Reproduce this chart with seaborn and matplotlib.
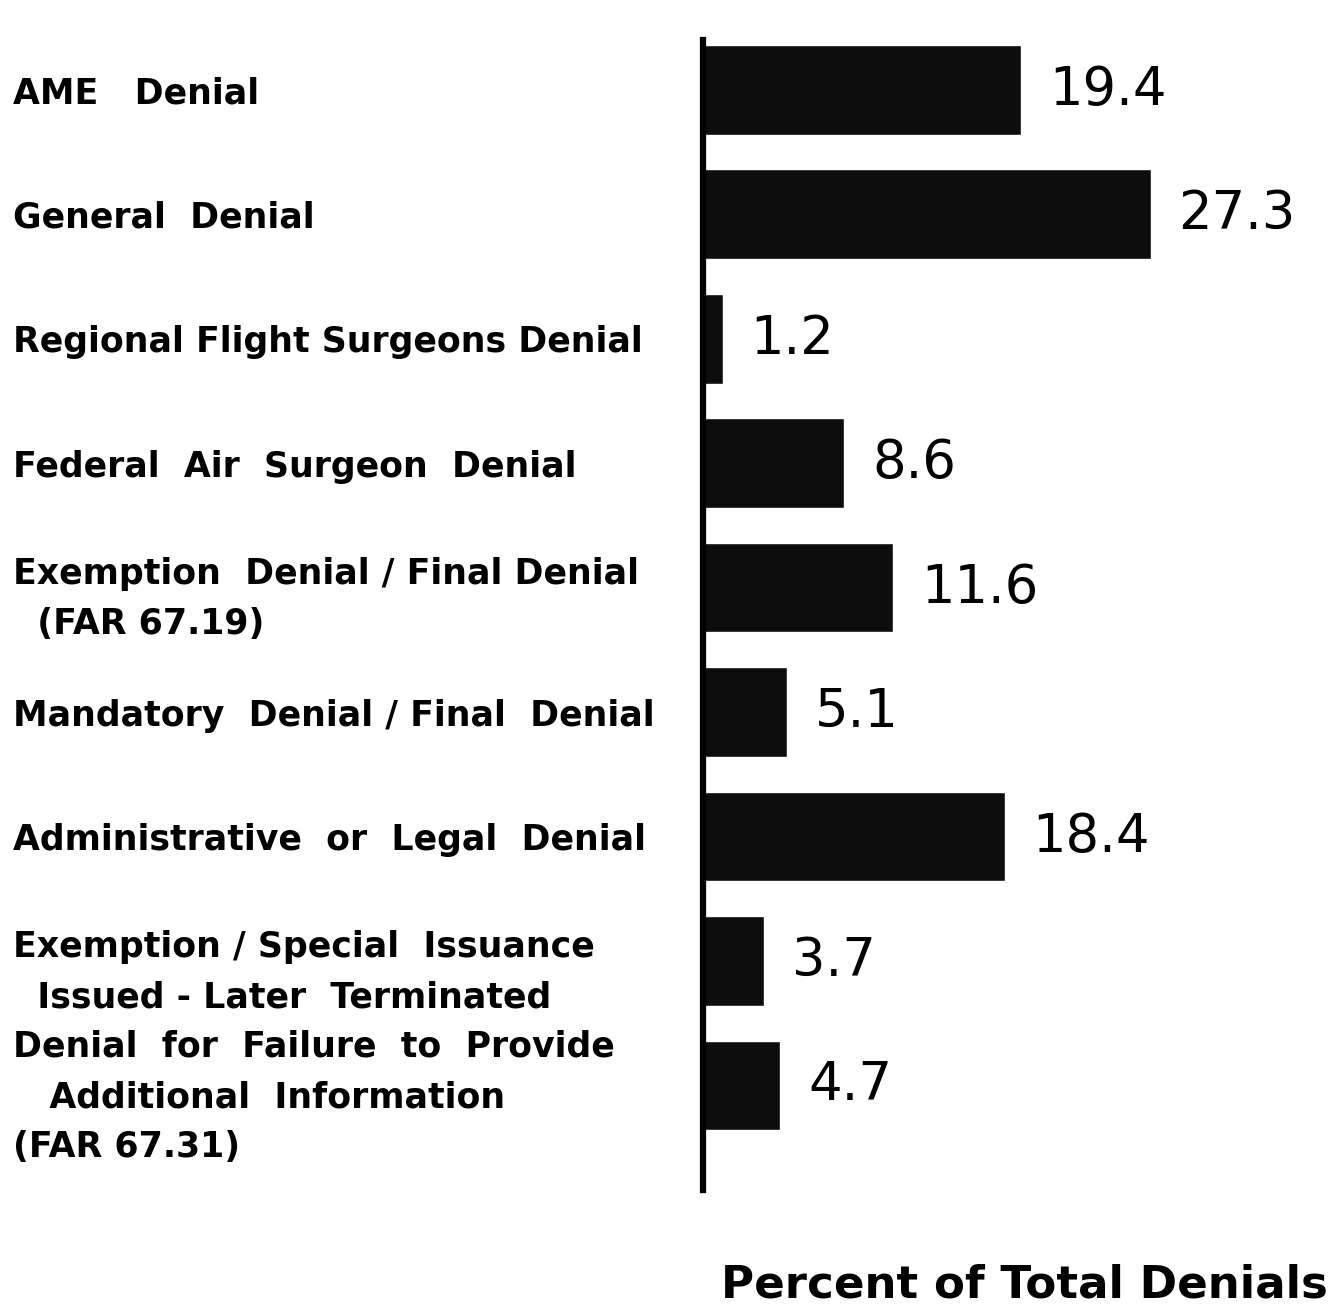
import matplotlib
matplotlib.use("Agg")
import matplotlib.pyplot as plt
import seaborn as sns
import pandas as pd

categorias = [
    "AME   Denial",
    "General  Denial",
    "Regional Flight Surgeons Denial",
    "Federal  Air  Surgeon  Denial",
    "Exemption  Denial / Final Denial\n  (FAR 67.19)",
    "Mandatory  Denial / Final  Denial",
    "Administrative  or  Legal  Denial",
    "Exemption / Special  Issuance\n  Issued - Later  Terminated",
    "Denial  for  Failure  to  Provide\n   Additional  Information\n(FAR 67.31)",
]
porcentajes = [19.4, 27.3, 1.2, 8.6, 11.6, 5.1, 18.4, 3.7, 4.7]
etiquetas_valor = ["19.4", "27.3", "1.2", "8.6", "11.6", "5.1", "18.4", "3.7", "4.7"]

df = pd.DataFrame({"categoria": categorias, "porcentaje": porcentajes})

sns.set_style("white")
plt.rcParams["font.family"] = ["DejaVu Sans"]
plt.rcParams["text.color"] = "black"
plt.rcParams["ytick.color"] = "black"
plt.rcParams["ytick.labelcolor"] = "black"

fig = plt.figure(figsize=(13.36, 13.11), dpi=100)
ax = fig.add_axes([703 / 1336, 1 - 1190 / 1311, 633 / 1336, 1150 / 1311])

sns.barplot(data=df, x="porcentaje", y="categoria", orient="h",
            color="#0d0d0d", width=0.72, saturation=1, ax=ax)

for i, (v, txt) in enumerate(zip(porcentajes, etiquetas_valor)):
    ax.text(v + 1.7, i, txt, va="center", ha="left", fontsize=38, color="black")

ax.set_xlim(0, 38.6)
ax.set_ylim(8.84, -0.4)

for s in ["top", "right", "bottom"]:
    ax.spines[s].set_visible(False)
ax.spines["left"].set_linewidth(4.5)
ax.spines["left"].set_color("black")

ax.set_xticks([])
ax.set_xlabel("")
ax.set_ylabel("")
ax.tick_params(axis="y", length=0, pad=497)
for lbl in ax.get_yticklabels():
    lbl.set_ha("left")
    lbl.set_fontsize(25)
    lbl.set_fontweight("bold")
    lbl.set_linespacing(1.6)
    lbl.set_color("black")

fig.text(1328 / 1336, 1 - 1285 / 1311, "Percent of Total Denials", ha="right", va="center",
         fontsize=32.5, fontweight="bold", color="black")

fig.savefig("out.png", dpi=100, facecolor="white")
